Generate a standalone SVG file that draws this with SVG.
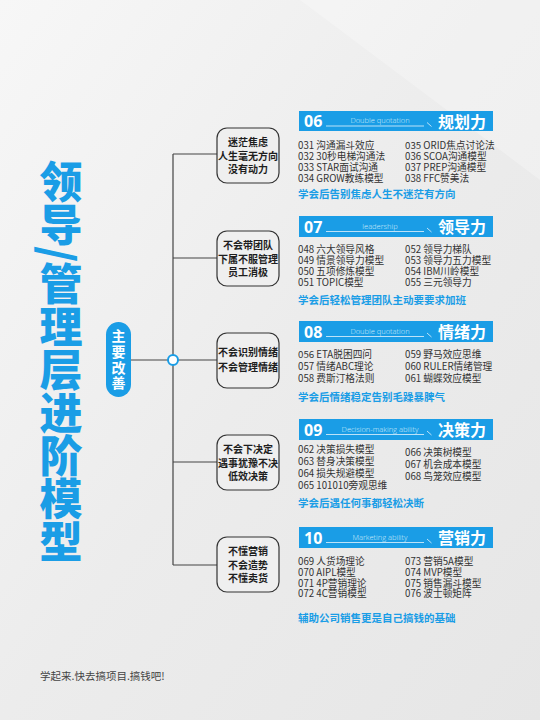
<svg xmlns="http://www.w3.org/2000/svg" width="540" height="720" viewBox="0 0 540 720">
<defs>
<linearGradient id="bg" x1="0" y1="0" x2="1" y2="1">
<stop offset="0" stop-color="#f7f7f7"/>
<stop offset="0.5" stop-color="#ececec"/>
<stop offset="1" stop-color="#e6e6e6"/>
</linearGradient>
<style>
.title{font-family:"Noto Sans CJK SC",sans-serif;font-weight:900;font-size:43px;fill:#1a9de6}
.pill{font-family:"Noto Sans CJK SC",sans-serif;font-weight:700;font-size:14px;fill:#fff;letter-spacing:1.7px}
.box rect{fill:#efefef;stroke:#333;stroke-width:1.2}
.box text{font-family:"Noto Sans CJK SC",sans-serif;font-weight:700;font-size:10px;fill:#1e1e1e;text-anchor:middle}
.bar{fill:#1a9de6}
.num{font-family:"Open Sans","Noto Sans",sans-serif;font-weight:700;font-size:16px;fill:#fff}
.sub{font-family:"Open Sans","Noto Sans",sans-serif;font-weight:300;font-size:7.5px;fill:#d4ecfa;text-anchor:middle}
.hd{font-family:"Noto Sans CJK SC",sans-serif;font-weight:700;font-size:16px;fill:#fff;text-anchor:end}
.rule{stroke:#e6f4fd;stroke-width:0.8;fill:none}
.item{font-family:"Noto Sans CJK SC",sans-serif;font-weight:400;font-size:9.7px;fill:#333}
.sum{font-family:"Noto Sans CJK SC",sans-serif;font-weight:700;font-size:10.5px;fill:#1a9de6}
.foot{font-family:"Noto Sans CJK SC",sans-serif;font-weight:400;font-size:10.5px;fill:#444}
.conn{stroke:#444;stroke-width:1.2;fill:none}
</style>
</defs>
<rect width="540" height="720" fill="url(#bg)"/>
<polygon points="300,0 540,0 540,180" fill="#ffffff" opacity="0.25"/>

<g id="title">
<text class="title" x="61" y="160" style="writing-mode:vertical-rl">领导/管理层进阶模型</text>
</g>

<g id="center">
<rect x="106" y="322" width="25" height="75" rx="12.5" fill="#1a9de6"/>
<text class="pill" x="118.5" y="329" style="writing-mode:vertical-rl">主要改善</text>
</g>

<g id="connectors">
<path class="conn" d="M131,360 H218"/>
<path class="conn" d="M173,154 V565"/>
<path class="conn" d="M173,154 H217"/>
<path class="conn" d="M173,258 H217"/>
<path class="conn" d="M173,462 H217"/>
<path class="conn" d="M173,565 H217"/>
<circle cx="173" cy="360" r="5" fill="#fff" stroke="#1a9de6" stroke-width="2"/>
</g>

<g id="box1" class="box">
<rect x="217" y="128" width="62" height="55" rx="10"/>
<text x="248" y="146">迷茫焦虑<tspan x="248" dy="13.5">人生毫无方向</tspan><tspan x="248" dy="13.5">没有动力</tspan></text>
</g>
<g id="box2" class="box">
<rect x="217" y="231" width="62" height="55" rx="10"/>
<text x="248" y="249">不会带团队<tspan x="248" dy="13.5">下属不服管理</tspan><tspan x="248" dy="13.5">员工消极</tspan></text>
</g>
<g id="box3" class="box">
<rect x="217" y="333" width="62" height="55" rx="10"/>
<text x="248" y="356">不会识别情绪<tspan x="248" dy="15">不会管理情绪</tspan></text>
</g>
<g id="box4" class="box">
<rect x="217" y="435" width="62" height="55" rx="10"/>
<text x="248" y="453">不会下决定<tspan x="248" dy="13.5">遇事犹豫不决</tspan><tspan x="248" dy="13.5">低效决策</tspan></text>
</g>
<g id="box5" class="box">
<rect x="217" y="537" width="62" height="55" rx="10"/>
<text x="248" y="555">不懂营销<tspan x="248" dy="13.5">不会造势</tspan><tspan x="248" dy="13.5">不懂卖货</tspan></text>
</g>

<g id="sec06">
<rect class="bar" x="299" y="111" width="194" height="20"/>
<text class="num" x="304" y="127">06</text>
<text class="sub" x="380" y="123">Double quotation</text>
<path class="rule" d="M326,126 H424 M427,122.5 L431.5,126.5"/>
<text class="hd" x="486" y="127.5">规划力</text>
<text class="item" x="298" y="148.5">031 沟通漏斗效应<tspan x="298" dy="11">032 30秒电梯沟通法</tspan><tspan x="298" dy="11">033 STAR面试沟通</tspan><tspan x="298" dy="11">034 GROW教练模型</tspan></text>
<text class="item" x="405" y="148.5">035 ORID焦点讨论法<tspan x="405" dy="11">036 SCOA沟通模型</tspan><tspan x="405" dy="11">037 PREP沟通模型</tspan><tspan x="405" dy="11">038 FFC赞美法</tspan></text>
<text class="sum" x="298" y="198">学会后告别焦虑人生不迷茫有方向</text>
</g>

<g id="sec07">
<rect class="bar" x="299" y="216" width="194" height="21"/>
<text class="num" x="304" y="232.5">07</text>
<text class="sub" x="380" y="228.5">leadership</text>
<path class="rule" d="M326,231.5 H424 M427,228 L431.5,232"/>
<text class="hd" x="486" y="233">领导力</text>
<text class="item" x="298" y="252.5">048 六大领导风格<tspan x="298" dy="11.2">049 情景领导力模型</tspan><tspan x="298" dy="11">050 五项修炼模型</tspan><tspan x="298" dy="10.8">051 TOPIC模型</tspan></text>
<text class="item" x="405" y="252.5">052 领导力梯队<tspan x="405" dy="11.2">053 领导力五力模型</tspan><tspan x="405" dy="11">054 IBM川岭模型</tspan><tspan x="405" dy="10.8">055 三元领导力</tspan></text>
<text class="sum" x="298" y="304">学会后轻松管理团队主动要要求加班</text>
</g>

<g id="sec08">
<rect class="bar" x="299" y="321" width="194" height="21"/>
<text class="num" x="304" y="337.5">08</text>
<text class="sub" x="380" y="333.5">Double quotation</text>
<path class="rule" d="M326,336.5 H424 M427,333 L431.5,337"/>
<text class="hd" x="486" y="338">情绪力</text>
<text class="item" x="298" y="357.5">056 ETA脱困四问<tspan x="298" dy="12.3">057 情绪ABC理论</tspan><tspan x="298" dy="11.7">058 费斯汀格法则</tspan></text>
<text class="item" x="405" y="357.5">059 野马效应思维<tspan x="405" dy="12.3">060 RULER情绪管理</tspan><tspan x="405" dy="11.7">061 蝴蝶效应模型</tspan></text>
<text class="sum" x="298" y="401">学会后情绪稳定告别毛躁暴脾气</text>
</g>

<g id="sec09">
<rect class="bar" x="299" y="419" width="194" height="21"/>
<text class="num" x="304" y="435.5">09</text>
<text class="sub" x="380" y="431.5">Decision-making ability</text>
<path class="rule" d="M326,434.5 H424 M427,431 L431.5,435"/>
<text class="hd" x="486" y="436">决策力</text>
<text class="item" x="298" y="452.5">062 决策损失模型<tspan x="298" dy="12">063 替身决策模型</tspan><tspan x="298" dy="12">064 损失规避模型</tspan><tspan x="298" dy="12">065 101010旁观思维</tspan></text>
<text class="item" x="405" y="456">066 决策树模型<tspan x="405" dy="12">067 机会成本模型</tspan><tspan x="405" dy="12">068 鸟笼效应模型</tspan></text>
<text class="sum" x="298" y="507">学会后遇任何事都轻松决断</text>
</g>

<g id="sec10">
<rect class="bar" x="299" y="527" width="194" height="21"/>
<text class="num" x="304" y="543.5">10</text>
<text class="sub" x="380" y="539.5">Marketing ability</text>
<path class="rule" d="M326,542.5 H424 M427,539 L431.5,543"/>
<text class="hd" x="486" y="544">营销力</text>
<text class="item" x="298" y="564.5">069 人货场理论<tspan x="298" dy="11">070 AIPL模型</tspan><tspan x="298" dy="11">071 4P营销理论</tspan><tspan x="298" dy="10.5">072 4C营销模型</tspan></text>
<text class="item" x="405" y="564.5">073 营销5A模型<tspan x="405" dy="11">074 MVP模型</tspan><tspan x="405" dy="11">075 销售漏斗模型</tspan><tspan x="405" dy="10.5">076 波士顿矩阵</tspan></text>
<text class="sum" x="298" y="622">辅助公司销售更是自己搞钱的基础</text>
</g>

<g id="footer">
<text class="foot" x="40" y="680">学起来.快去搞项目.搞钱吧!</text>
</g>
</svg>
